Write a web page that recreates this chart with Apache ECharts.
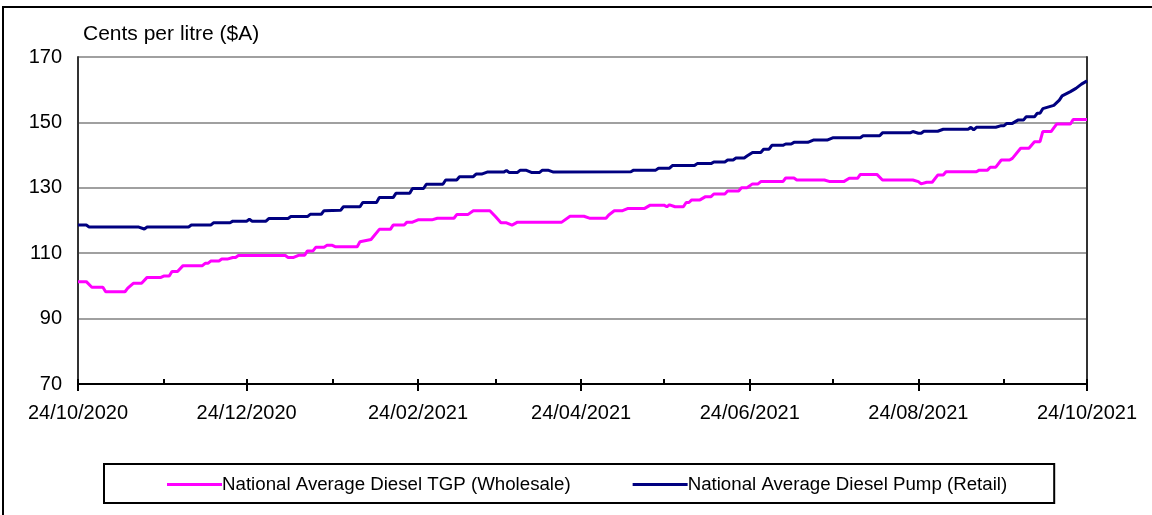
<!DOCTYPE html>
<html>
<head>
<meta charset="utf-8">
<script src="https://cdn.jsdelivr.net/npm/echarts@6/dist/echarts.min.js"></script>
<style>
html,body{margin:0;padding:0;background:#fff;}
#chart{width:1152px;height:515px;}
</style>
</head>
<body>
<div id="chart"></div>
<script>
// ---- data (x = days counted from 24/10/2020) ----
const startDate = [2020, 9, 24];
const seriesNames = ['National Average Diesel TGP (Wholesale)', 'National Average Diesel Pump (Retail)'];
const yTicks = [70, 90, 110, 130, 150, 170];
const majorTickLabels = ['24/10/2020', '24/12/2020', '24/02/2021', '24/04/2021', '24/06/2021', '24/08/2021', '24/10/2021'];
const minorTickLabels = ['24/11/2020', '24/01/2021', '24/03/2021', '24/05/2021', '24/07/2021', '24/09/2021'];

const tgpDays = [0,3,5,9,10,17,18,20,23,25,30,31,33,34,36,38,45,46,47,48,51,52,54,56,57,58,75,76,78,80,82,83,85,86,89,90,92,93,101,102,106,109,113,114,118,119,121,123,128,130,136,137,141,143,149,151,153,155,157,159,175,178,183,185,191,192,194,197,199,205,207,212,213,214,216,219,220,221,222,225,227,229,230,234,235,239,240,242,244,246,247,255,256,259,260,270,272,277,279,282,283,289,291,302,304,305,307,309,311,313,314,325,326,329,330,332,334,337,338,341,344,346,348,349,352,354,359,360,365];
const tgpValues = [101.3,101.3,99.6,99.6,98.2,98.2,99.3,100.8,100.8,102.6,102.6,103.0,103.0,104.4,104.4,106.2,106.2,106.9,106.9,107.6,107.6,108.2,108.2,108.7,108.7,109.3,109.3,108.7,108.7,109.4,109.4,110.7,110.7,111.8,111.8,112.4,112.4,112.0,112.0,113.5,114.2,117.3,117.3,118.6,118.6,119.5,119.5,120.2,120.2,120.7,120.7,121.8,121.8,123.0,123.0,121.2,119.3,119.3,118.6,119.5,119.5,121.3,121.3,120.7,120.7,121.7,123.0,123.0,123.7,123.7,124.7,124.7,124.2,124.8,124.2,124.2,125.5,125.5,126.3,126.3,127.3,127.3,128.1,128.1,129.0,129.0,130.0,130.0,131.2,131.2,131.9,131.9,133.0,133.0,132.4,132.4,131.9,131.9,132.9,132.9,134.1,134.1,132.4,132.4,131.9,131.2,131.7,131.7,133.9,133.9,134.9,134.9,135.4,135.4,136.3,136.3,138.5,138.5,139.0,142.1,142.1,144.1,144.1,147.2,147.2,149.5,149.5,150.9,150.9];

const pumpDays = [0,3,4,22,24,25,40,41,48,49,55,56,61,62,63,68,69,76,77,83,84,88,89,95,96,102,103,108,109,114,115,120,121,125,126,132,133,137,138,143,144,146,148,154,155,156,159,160,162,164,167,168,170,172,200,201,209,210,214,215,223,224,229,230,234,235,237,238,241,242,244,247,248,250,251,255,256,258,259,264,266,271,273,283,284,290,291,301,302,304,305,306,311,313,322,323,324,325,332,334,335,336,338,340,342,343,346,347,348,349,353,355,356,359,361,363,365];
const pumpValues = [118.6,118.6,118.0,118.0,117.4,118.0,118.0,118.6,118.6,119.3,119.3,119.8,119.8,120.4,119.8,119.8,120.6,120.6,121.2,121.2,121.9,121.9,123.0,123.1,124.2,124.2,125.5,125.5,127.0,127.0,128.3,128.3,129.8,129.8,131.1,131.1,132.4,132.4,133.4,133.4,134.2,134.2,134.8,134.8,135.3,134.7,134.7,135.4,135.4,134.7,134.7,135.4,135.4,134.8,134.9,135.4,135.4,136.0,136.0,136.8,136.8,137.4,137.4,137.9,137.9,138.5,138.5,139.1,139.1,139.7,140.8,140.8,141.8,141.8,143.0,143.0,143.4,143.4,143.9,143.9,144.6,144.6,145.3,145.3,145.9,145.9,146.8,146.8,147.2,146.7,146.7,147.3,147.3,147.9,147.9,148.5,147.7,148.5,148.5,149.0,149.0,149.7,149.7,150.7,150.7,151.7,151.7,152.8,152.8,154.2,155.2,156.8,158.1,159.4,160.4,161.7,162.7];

// ---- helpers ----
const DAY = 86400000;
function utc(y, m, d) { return Date.UTC(y, m, d); }
const t0 = utc(startDate[0], startDate[1], startDate[2]);
function pad(n) { return (n < 10 ? '0' : '') + n; }
function dayToLabel(day) {
  const d = new Date(t0 + Math.round(day) * DAY);
  return pad(d.getUTCDate()) + '/' + pad(d.getUTCMonth() + 1) + '/' + d.getUTCFullYear();
}
function labelToDay(s) { const p = s.split('/'); return Math.round((utc(+p[2], +p[1] - 1, +p[0]) - t0) / DAY); }

const majorDays = majorTickLabels.map(labelToDay);
const minorDays = majorTickLabels.concat(minorTickLabels).map(labelToDay).sort((a, b) => a - b);
const xMin = majorDays[0];
const xMax = majorDays[majorDays.length - 1];

const tgpData = tgpDays.map((d, i) => [d, tgpValues[i]]);
const pumpData = pumpDays.map((d, i) => [d, pumpValues[i]]);

const FONT = "'Liberation Sans', Arial, sans-serif";
const chart = echarts.init(document.getElementById('chart'), null, { renderer: 'canvas' });
chart.setOption({
  animation: false,
  backgroundColor: '#fff',
  textStyle: { fontFamily: FONT, color: '#000' },
  graphic: [{
    type: 'rect', z: -1, silent: true,
    shape: { x: 3, y: 7, width: 1200, height: 600 },
    style: { fill: 'none', stroke: '#000', lineWidth: 2 }
  }],
  grid: { left: 78, right: 65, top: 57, bottom: 131, containLabel: false },
  legend: {
    data: seriesNames,
    left: 104, top: 464,
    padding: [11, 47, 9, 63],
    itemGap: 62,
    itemWidth: 55, itemHeight: 3,
    icon: 'rect',
    borderColor: '#000', borderWidth: 2,
    selectedMode: false,
    textStyle: { fontFamily: FONT, fontSize: 18.7, color: '#000', padding: [0, 0, 0, -5] }
  },
  xAxis: [{
    type: 'value', min: xMin, max: xMax, position: 'bottom',
    axisLine: { show: true, onZero: false, lineStyle: { color: '#000', width: 2 } },
    axisTick: { show: true, customValues: majorDays, length: 7, lineStyle: { color: '#000', width: 2 } },
    axisLabel: { show: true, customValues: majorDays, formatter: v => dayToLabel(v), fontSize: 20, color: '#000', margin: 19, fontFamily: FONT, showMinLabel: true, showMaxLabel: true },
    splitLine: { show: false }
  }, {
    type: 'value', min: xMin, max: xMax, position: 'bottom',
    axisLine: { show: false, onZero: false },
    axisTick: { show: true, inside: true, customValues: minorDays, length: 5, lineStyle: { color: '#000', width: 2 } },
    axisLabel: { show: false },
    splitLine: { show: false }
  }],
  yAxis: [{
    type: 'value', min: yTicks[0], max: yTicks[yTicks.length - 1], interval: 20,
    name: 'Cents per litre ($A)', nameLocation: 'end', nameGap: 12,
    nameTextStyle: { align: 'left', fontSize: 21, color: '#000', fontFamily: FONT, padding: [0, 0, 0, 5] },
    axisLine: { show: true, onZero: false, lineStyle: { color: '#333', width: 2 } },
    axisTick: { show: false },
    axisLabel: { fontSize: 20, color: '#000', margin: 16, fontFamily: FONT },
    splitLine: { show: true, lineStyle: { color: '#a0a0a0', width: 2 } }
  }, {
    type: 'value', min: yTicks[0], max: yTicks[yTicks.length - 1], interval: 20, position: 'right',
    axisLine: { show: true, onZero: false, lineStyle: { color: '#333', width: 2 } },
    axisTick: { show: false }, axisLabel: { show: false }, splitLine: { show: false }
  }],
  series: [{
    name: seriesNames[0], type: 'line', data: tgpData, symbol: 'none',
    xAxisIndex: 0, yAxisIndex: 0,
    lineStyle: { color: '#ff00ff', width: 3 }, itemStyle: { color: '#ff00ff' }
  }, {
    name: seriesNames[1], type: 'line', data: pumpData, symbol: 'none',
    xAxisIndex: 0, yAxisIndex: 0,
    lineStyle: { color: '#000080', width: 3 }, itemStyle: { color: '#000080' }
  }]
});
</script>
</body>
</html>
